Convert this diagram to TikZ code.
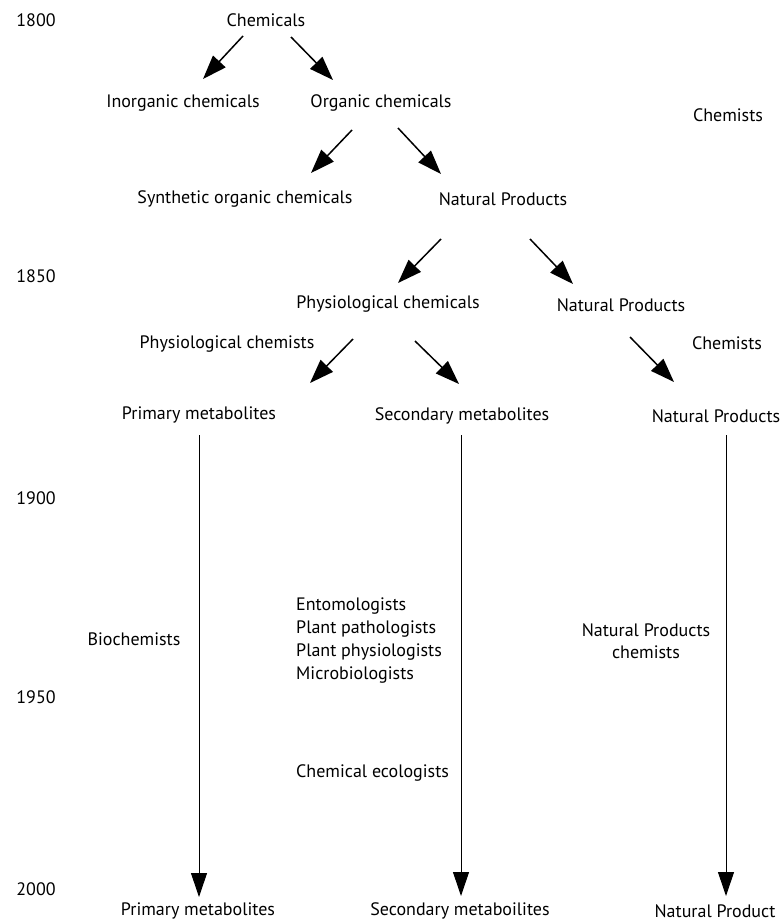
\documentclass[tikz,border=0pt]{standalone}
\usepackage{fontspec}
\setmainfont{PT Sans}
\usetikzlibrary{arrows.meta}

\begin{document}
\begin{tikzpicture}[x=1pt, y=-1pt,
      label/.style ={inner sep = 0pt, font=\fontsize{18}{21}\selectfont},
      branch/.style ={line width=1.5pt, -{Triangle[length=24pt, width=17pt]}},
      lineage/.style ={line width=1pt, -{Triangle[length=24pt, width=16pt]}}]
   \useasboundingbox (0,0) rectangle (784,924);

   % years
   \node[label] (y1800) at (36,20)  {1800};
   \node[label] (y1850) at (36,276) {1850};
   \node[label] (y1900) at (36,498) {1900};
   \node[label] (y1950) at (36,697) {1950};
   \node[label] (y2000) at (36,889) {2000};

   \node[label] (chem)  at (266,20)  {Chemicals};
   \node[label] (inorg) at (183,103) {Inorganic chemicals};
   \node[label] (org)   at (381,103) {Organic chemicals};
   \node[label] (chemists) at (728,115) {Chemists};

   \node[label] (synth) at (245,199) {Synthetic organic chemicals};
   \node[label] (np)    at (503,199) {Natural Products};

   \node[label] (phys)  at (388,304) {Physiological chemicals};
   \node[label] (npb)   at (621,305) {Natural Products};
   \node[label] (physchemists) at (227,344) {Physiological chemists};
   \node[label] (chemistsb) at (727,343) {Chemists};

   \node[label] (prim)  at (199,415) {Primary metabolites};
   \node[label] (sec)   at (462,416) {Secondary metabolites};
   \node[label] (npc)   at (716,416) {Natural Products};

   \node[label] (biochem) at (134,639) {Biochemists};
   \node[label, align=left, anchor=west, font=\fontsize{18}{23}\selectfont] (groups) at (296,640.5)
      {Entomologists\\Plant pathologists\\Plant physiologists\\Microbiologists};
   \node[label, align=center, font=\fontsize{18}{22}\selectfont] (npchemists) at (646,641)
      {Natural Products\\chemists};
   \node[label, anchor=west] (ecol) at (296,773) {Chemical ecologists};

   \node[label] (primend) at (198,911) {Primary metabolites};
   \node[label] (secend)  at (460,911) {Secondary metaboilites};
   \node[label] (npend)   at (715,911) {Natural Product};

   \draw[branch] ([shift={(-23,16)}]chem.center) -- ([shift={(20,-24)}]inorg.center);
   \draw[branch] ([shift={(25,17)}]chem.center) -- ([shift={(-48,-23)}]org.center);
   \draw[branch] ([shift={(-29,27)}]org.center) -- ([shift={(66,-26)}]synth.center);
   \draw[branch] ([shift={(17,25)}]org.center) -- ([shift={(-62,-25)}]np.center);

   \draw[branch] ([shift={(-62,40)}]np.center) -- ([shift={(10,-21)}]phys.center);
   \draw[branch] ([shift={(27,40)}]np.center) -- ([shift={(-48,-21)}]npb.center);

   \draw[branch] ([shift={(-35,35)}]phys.center) -- ([shift={(111,-32)}]prim.center);
   \draw[branch] ([shift={(27,37)}]phys.center) -- ([shift={(-3,-32)}]sec.center);
   \draw[branch] ([shift={(9,32)}]npb.center) -- ([shift={(-42,-34)}]npc.center);

   \draw[lineage] ([shift={(0,20)}]prim.center) -- ([shift={(1,-14)}]primend.center);
   \draw[lineage] ([shift={(-1,19)}]sec.center) -- ([shift={(1,-15)}]secend.center);
   \draw[lineage] ([shift={(10,19)}]npc.center) -- ([shift={(11,-15)}]npend.center);

 \end{tikzpicture}
\end{document}
